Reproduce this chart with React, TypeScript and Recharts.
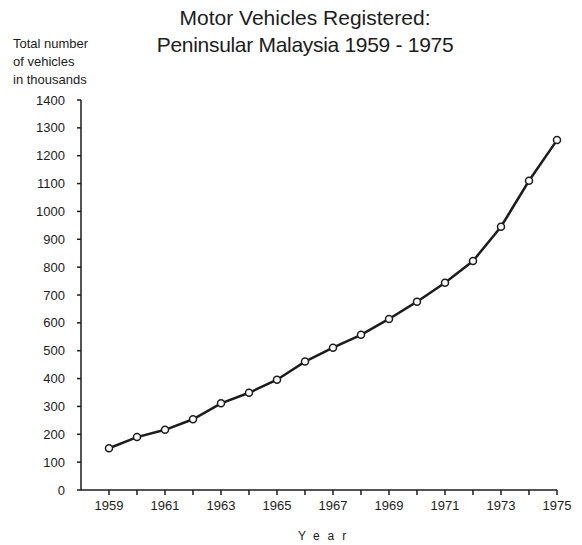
import { LineChart, Line, XAxis, YAxis } from "recharts";

const years = [
  1959, 1960, 1961, 1962, 1963, 1964, 1965, 1966, 1967, 1968, 1969, 1970,
  1971, 1972, 1973, 1974, 1975,
];

// total vehicles registered, thousands
const vehicles = [
  150, 190, 216, 254, 311, 349, 396, 461, 511, 557, 614, 676, 744, 822, 945,
  1110, 1256,
];

const yTicks = [
  0, 100, 200, 300, 400, 500, 600, 700, 800, 900, 1000, 1100, 1200, 1300, 1400,
];

const data = years.map((year, i) => ({ year, vehicles: vehicles[i] }));

const INK = "#1c1c1c";
const FONT = "'Liberation Sans', Arial, sans-serif";

function App() {
  return (
    <div
      style={{
        position: "absolute",
        left: 0,
        top: 0,
        width: 582,
        height: 545,
        background: "#fff",
        fontFamily: FONT,
        color: INK,
      }}
    >
      <div
        style={{
          position: "absolute",
          left: 0,
          width: 610,
          top: 4,
          textAlign: "center",
          fontSize: 21,
          lineHeight: "27px",
        }}
      >
        Motor Vehicles Registered:
        <br />
        <span style={{ letterSpacing: "-0.3px" }}>
          Peninsular Malaysia 1959 - 1975
        </span>
      </div>

      <div
        style={{
          position: "absolute",
          left: 13,
          top: 35,
          fontSize: 13,
          lineHeight: "18px",
        }}
      >
        Total number
        <br />
        of vehicles
        <br />
        in thousands
      </div>

      <LineChart
        width={582}
        height={545}
        data={data}
        margin={{ top: 100, right: 25, bottom: 25, left: 21 }}
      >
        <XAxis
          dataKey="year"
          type="number"
          domain={[1958, 1975]}
          ticks={years}
          interval={0}
          tickFormatter={(v: number) => (v % 2 === 1 ? String(v) : "")}
          height={30}
          tickSize={5}
          tickMargin={6}
          stroke={INK}
          strokeWidth={1.5}
          tick={{ fill: INK, fontSize: 13, fontFamily: FONT }}
        />
        <YAxis
          type="number"
          domain={[0, 1400]}
          ticks={yTicks}
          interval={0}
          width={60}
          tickSize={4}
          tickMargin={12}
          stroke={INK}
          strokeWidth={1.5}
          tick={{ fill: INK, fontSize: 13, fontFamily: FONT }}
        />
        <Line
          type="linear"
          dataKey="vehicles"
          stroke={INK}
          strokeWidth={2.5}
          dot={{ r: 3.5, fill: "#fff", stroke: INK, strokeWidth: 1.5 }}
          isAnimationActive={false}
        />
      </LineChart>

      <div
        style={{
          position: "absolute",
          left: 298,
          top: 529,
          fontSize: 12,
          letterSpacing: "8px",
        }}
      >
        Year
      </div>
    </div>
  );
}

export default App;
